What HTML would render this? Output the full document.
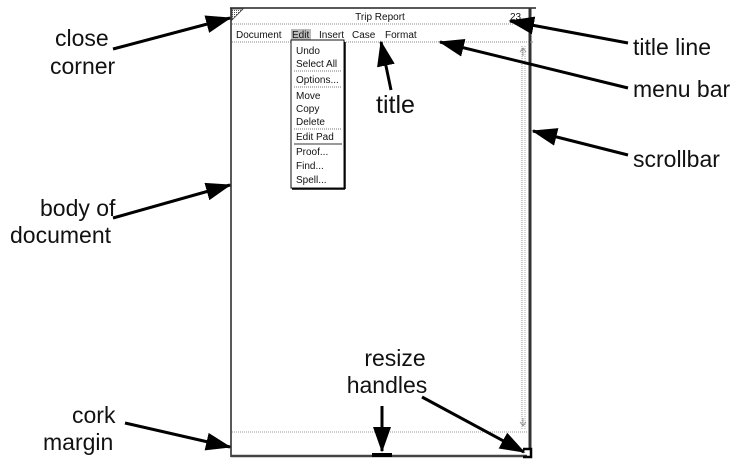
<!DOCTYPE html>
<html><head><meta charset="utf-8"><style>
html,body{margin:0;padding:0;background:#fff;}
svg{display:block;}
.lab{font-family:"Liberation Sans",sans-serif;font-size:23px;fill:#111;}
.ui{font-family:"Liberation Sans",sans-serif;font-size:10px;fill:#111;}
</style></head><body>
<svg width="752" height="468" viewBox="0 0 752 468" xmlns="http://www.w3.org/2000/svg">
<defs>
<marker id="ah" markerWidth="8.5" markerHeight="6" refX="8" refY="3" orient="auto" markerUnits="strokeWidth">
<path d="M0,0 L8.5,3 L0,6 z" fill="#000"/></marker>
<pattern id="dots" width="2" height="2" patternUnits="userSpaceOnUse"><rect width="1" height="1" fill="#555"/></pattern>
</defs>
<line x1="231" y1="8" x2="231" y2="457" stroke="#222" stroke-width="1.5"/>
<line x1="230" y1="8" x2="536" y2="8" stroke="#222" stroke-width="1.5"/>
<line x1="530" y1="8" x2="530" y2="449" stroke="#333" stroke-width="3"/>
<line x1="231" y1="456" x2="527" y2="456" stroke="#444" stroke-width="2.5"/>
<rect x="372" y="453" width="20" height="4" fill="#000"/>
<path d="M523,449 H531 V457 H523" fill="none" stroke="#000" stroke-width="2.5"/>
<polygon points="232,9 243,9 232,20" fill="url(#dots)" stroke="#444" stroke-width="0.8"/>
<line x1="232" y1="24" x2="528" y2="24" stroke="#888" stroke-width="1" stroke-dasharray="1 1"/>
<line x1="232" y1="42" x2="534" y2="42" stroke="#888" stroke-width="1" stroke-dasharray="1 1"/>
<line x1="232" y1="432" x2="528" y2="432" stroke="#999" stroke-width="1" stroke-dasharray="1 1"/>
<line x1="522" y1="46" x2="522" y2="430" stroke="#999" stroke-width="1" stroke-dasharray="1 1"/>
<line x1="525" y1="46" x2="525" y2="430" stroke="#aaa" stroke-width="1" stroke-dasharray="1 1"/>
<path d="M520,52 L523,48 L526,52 M523,48 V56" stroke="#888" stroke-width="0.8" fill="none"/>
<path d="M520,422 L523,426 L526,422 M523,426 V418" stroke="#888" stroke-width="0.8" fill="none"/>
<text x="380" y="20" class="ui" text-anchor="middle">Trip Report</text>
<text x="510" y="20" class="ui">23</text>
<text x="236" y="38" class="ui">Document</text>
<rect x="291" y="29" width="20" height="12" fill="#bbb"/>
<text x="292" y="38" class="ui">Edit</text>
<text x="319" y="38" class="ui">Insert</text>
<text x="352" y="38" class="ui">Case</text>
<text x="385" y="38" class="ui">Format</text>
<rect x="291" y="40" width="53" height="148" fill="#fff" stroke="#111" stroke-width="1"/>
<line x1="345" y1="42" x2="345" y2="189" stroke="#000" stroke-width="1.5"/>
<line x1="292" y1="189" x2="345" y2="189" stroke="#000" stroke-width="1.5"/>
<text x="296" y="54" class="ui">Undo</text>
<text x="296" y="67" class="ui">Select All</text>
<text x="296" y="83" class="ui">Options...</text>
<text x="296" y="99" class="ui">Move</text>
<text x="296" y="112" class="ui">Copy</text>
<text x="296" y="125" class="ui">Delete</text>
<text x="296" y="140" class="ui">Edit Pad</text>
<text x="296" y="155" class="ui">Proof...</text>
<text x="296" y="169" class="ui">Find...</text>
<text x="296" y="183" class="ui">Spell...</text>
<g stroke="#777" stroke-width="1" stroke-dasharray="1 1">
<line x1="294" y1="71" x2="342" y2="71"/>
<line x1="294" y1="87" x2="342" y2="87"/>
<line x1="294" y1="129" x2="342" y2="129"/>
</g>
<line x1="294" y1="144" x2="342" y2="144" stroke="#333" stroke-width="1"/>
<text x="55" y="46" class="lab">close</text>
<text x="50" y="74" class="lab">corner</text>
<text x="40" y="216" class="lab">body of</text>
<text x="10" y="243" class="lab">document</text>
<text x="72" y="423" class="lab">cork</text>
<text x="43" y="450" class="lab">margin</text>
<text x="633" y="55" class="lab">title line</text>
<text x="633" y="97" class="lab">menu bar</text>
<text x="633" y="167" class="lab">scrollbar</text>
<text x="376" y="113" class="lab" style="font-size:25px">title</text>
<text x="395" y="366" class="lab" text-anchor="middle">resize</text>
<text x="387" y="393" class="lab" text-anchor="middle">handles</text>
<g stroke="#000" stroke-width="3" fill="none" marker-end="url(#ah)">
<line x1="113" y1="49" x2="230" y2="18"/>
<line x1="113" y1="218" x2="230" y2="185"/>
<line x1="125" y1="423" x2="230" y2="447"/>
<line x1="628" y1="43" x2="510" y2="21"/>
<line x1="628" y1="88" x2="440" y2="42"/>
<line x1="628" y1="155" x2="533" y2="131"/>
<line x1="391" y1="90" x2="381" y2="42"/>
<line x1="382" y1="406" x2="382" y2="451"/>
<line x1="422" y1="397" x2="524" y2="452"/>
</g>
</svg>
</body></html>
